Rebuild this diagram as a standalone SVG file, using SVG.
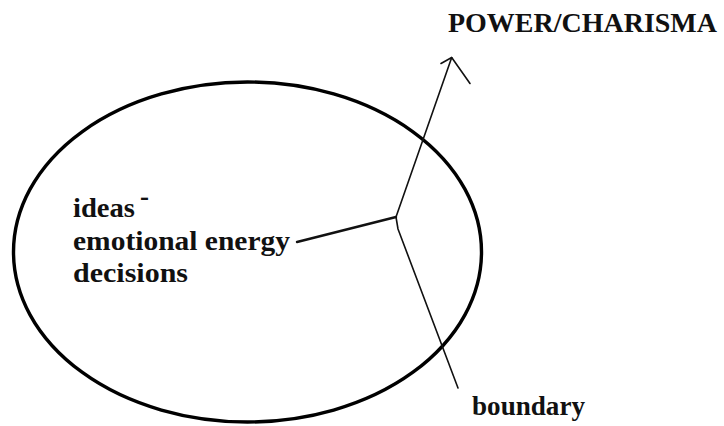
<svg xmlns="http://www.w3.org/2000/svg" width="724" height="426" viewBox="0 0 724 426">
<style>
.lbl{font-family:'Liberation Serif','DejaVu Serif','Times New Roman',serif;font-weight:700;font-size:27px;fill:#111}
.ln{fill:none;stroke:#111;stroke-linecap:round;stroke-linejoin:round}
</style>
<rect width="724" height="426" fill="#fff"/>
<g id="boundary-ellipse">
<ellipse cx="247.5" cy="252" rx="234" ry="170" fill="none" stroke="#000" stroke-width="3.4"/>
</g>
<g id="inner-text">
<text class="lbl" x="73" y="217" textLength="62" lengthAdjust="spacingAndGlyphs">ideas</text>
<text class="lbl" x="140" y="205" font-size="12">-</text>
<text class="lbl" x="73" y="250" textLength="217" lengthAdjust="spacingAndGlyphs">emotional energy</text>
<text class="lbl" x="73" y="282" textLength="115" lengthAdjust="spacingAndGlyphs">decisions</text>
</g>
<g id="power-label">
<text class="lbl" x="448" y="32" textLength="269" lengthAdjust="spacingAndGlyphs">POWER/CHARISMA</text>
</g>
<g id="boundary-label">
<text class="lbl" x="472" y="415" textLength="113" lengthAdjust="spacingAndGlyphs">boundary</text>
</g>
<g id="connectors">
<path class="ln" stroke-width="2.4" d="M297 242 L396 217"/>
<path class="ln" stroke-width="1.6" d="M396 217 L451.7 57.5"/>
<path class="ln" stroke-width="1.6" d="M441 63.5 L451.7 57.5 L470 83.5"/>
<path class="ln" stroke-width="1.6" d="M396 217 L398 229 L458 388"/>
</g>
</svg>
